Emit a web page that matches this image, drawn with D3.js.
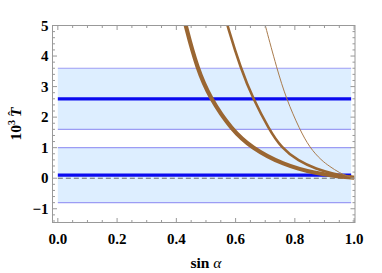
<!DOCTYPE html>
<html>
<head>
<meta charset="utf-8">
<script src="https://cdn.jsdelivr.net/npm/d3@7"></script>
<style>
  body { margin: 0; background: #fff; }
  svg { display: block; font-family: "Liberation Serif", "DejaVu Serif", serif; }
</style>
</head>
<body>
<svg id="chart" width="382" height="273"></svg>
<script>
// central values and bands (10^3 T)
let centers = [2.6, 0.1];
let bands = [[1.6, 3.6], [-0.8, 1.0]];

// the three brown curves
let thickX = [0.42, 0.431, 0.470, 0.515, 0.586, 0.653, 0.760, 0.873, 0.940, 0.985, 1.0];
let thickY = [5.5, 5.0, 3.6, 2.6, 1.6, 1.0, 0.44, 0.15, 0.07, 0.03, 0.02];
let midX = [0.562, 0.572, 0.617, 0.659, 0.713, 0.754, 0.812, 0.873, 0.928, 0.985, 1.0];
let midY = [5.4, 5.0, 3.6, 2.6, 1.6, 1.0, 0.56, 0.30, 0.15, 0.04, 0.02];
let thinX = [0.69, 0.700, 0.739, 0.771, 0.816, 0.850, 0.890, 0.917, 0.951, 0.985, 1.0];
let thinY = [5.4, 5.0, 3.6, 2.6, 1.6, 1.0, 0.58, 0.39, 0.17, 0.04, 0.02];

let xTicks = [0, 0.2, 0.4, 0.6, 0.8, 1.0];
let yTicks = [-1, 0, 1, 2, 3, 4, 5];

let svg = d3.select('#chart');
let mLeft = 52.5, mRight = 355, mTop = 25.5, mBottom = 222.5;

let x = d3.scaleLinear().domain([-0.018, 1.003]).range([mLeft, mRight]);
let y = d3.scaleLinear().domain([-1.45, 5]).range([mBottom, mTop]);

svg.append('defs').append('clipPath').attr('id', 'clip')
  .append('rect')
  .attr('x', mLeft).attr('y', mTop)
  .attr('width', mRight - mLeft).attr('height', mBottom - mTop);

let plot = svg.append('g').attr('clip-path', 'url(#clip)');

// bands
bands.forEach(b => {
  plot.append('rect')
    .attr('x', x(0))
    .attr('y', y(b[1]))
    .attr('width', x(0.99) - x(0))
    .attr('height', y(b[0]) - y(b[1]))
    .attr('fill', '#ddeeff');
  b.forEach(v => {
    plot.append('line')
      .attr('x1', x(0)).attr('x2', x(0.99))
      .attr('y1', y(v)).attr('y2', y(v))
      .attr('stroke', '#9c9cf4')
      .attr('stroke-width', 1.2);
  });
});

// zero line
plot.append('line')
  .attr('x1', x(0)).attr('x2', x(0.99))
  .attr('y1', y(0)).attr('y2', y(0))
  .attr('stroke', '#666')
  .attr('stroke-width', 1)
  .attr('stroke-dasharray', '5,3');

// central lines
centers.forEach(c => {
  plot.append('line')
    .attr('x1', x(0)).attr('x2', x(0.99))
    .attr('y1', y(c)).attr('y2', y(c))
    .attr('stroke', '#0a0af0')
    .attr('stroke-width', 3.2);
});

// curves
let line = d3.line()
  .x(d => x(d[0]))
  .y(d => y(d[1]))
  .curve(d3.curveBasis);

let curves = [
  { xs: thickX, ys: thickY, w: 4.2, c: '#9a6632' },
  { xs: midX, ys: midY, w: 2.6, c: '#9a6632' },
  { xs: thinX, ys: thinY, w: 1.0, c: '#a97b4d' }
];
curves.forEach(cv => {
  plot.append('path')
    .attr('d', line(cv.xs.map((v, i) => [v, cv.ys[i]])))
    .attr('fill', 'none')
    .attr('stroke', cv.c)
    .attr('stroke-width', cv.w);
});

// frame
svg.append('rect')
  .attr('x', mLeft).attr('y', mTop)
  .attr('width', mRight - mLeft).attr('height', mBottom - mTop)
  .attr('fill', 'none')
  .attr('stroke', '#999')
  .attr('stroke-width', 1);

let ticks = svg.append('g').attr('stroke', '#999').attr('stroke-width', 1);
let xMinor = d3.range(0, 1.0001, 0.05);
xMinor.forEach(v => {
  let major = xTicks.some(t => Math.abs(t - v) < 1e-6);
  let len = major ? 4.5 : 2.5;
  ticks.append('line').attr('x1', x(v)).attr('x2', x(v)).attr('y1', mBottom).attr('y2', mBottom - len);
  ticks.append('line').attr('x1', x(v)).attr('x2', x(v)).attr('y1', mTop).attr('y2', mTop + len);
});
let yMinor = d3.range(-1.4, 5.0001, 0.2);
yMinor.forEach(v => {
  let major = yTicks.some(t => Math.abs(t - v) < 1e-6);
  let len = major ? 4.5 : 2.5;
  ticks.append('line').attr('y1', y(v)).attr('y2', y(v)).attr('x1', mLeft).attr('x2', mLeft + len);
  ticks.append('line').attr('y1', y(v)).attr('y2', y(v)).attr('x1', mRight).attr('x2', mRight - len);
});

// tick labels
svg.append('g').selectAll('text').data(xTicks).join('text')
  .attr('x', d => x(d))
  .attr('y', 243.5)
  .attr('text-anchor', 'middle')
  .attr('font-size', 15)
  .attr('font-weight', 'bold')
  .text(d => d.toFixed(1));

svg.append('g').selectAll('text').data(yTicks).join('text')
  .attr('x', 48.5)
  .attr('y', d => y(d) + 5)
  .attr('text-anchor', 'end')
  .attr('font-size', 15)
  .attr('font-weight', 'bold')
  .text(d => d < 0 ? '\u2212' + Math.abs(d) : d);

// axis labels
let xl = svg.append('text')
  .attr('x', (x(0) + x(1)) / 2)
  .attr('y', 268)
  .attr('text-anchor', 'middle')
  .attr('font-size', 15.5)
  .attr('font-weight', 'bold');
xl.append('tspan').text('sin ');
xl.append('tspan').attr('font-style', 'italic').attr('font-weight', 'normal').text('\u03b1');

let yl = svg.append('text')
  .attr('transform', 'translate(21,' + 124 + ') rotate(-90)')
  .attr('text-anchor', 'middle')
  .attr('font-size', 15.5)
  .attr('font-weight', 'bold');
yl.append('tspan').text('10');
yl.append('tspan').attr('dy', -6).attr('font-size', 10).text('3');
yl.append('tspan').attr('dy', 6).attr('dx', 3).attr('font-style', 'italic').text('T');
yl.append('tspan').attr('dx', -8).attr('dy', -4).attr('font-size', 13).text('\u02c6');
</script>
</body>
</html>
